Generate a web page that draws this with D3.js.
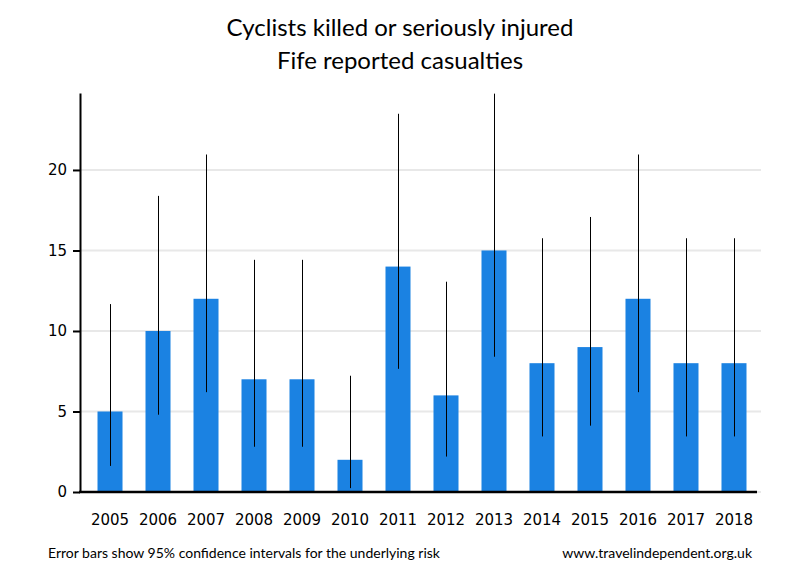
<!DOCTYPE html>
<html><head><meta charset="utf-8">
<script src="https://cdn.jsdelivr.net/npm/d3@7"></script>
<style>body{margin:0;background:#fff}</style>
</head><body>
<svg id="c" width="800" height="580"></svg>
<script>
const years = ["2005","2006","2007","2008","2009","2010","2011","2012","2013","2014","2015","2016","2017","2018"];
const casualties = [5,10,12,7,7,2,14,6,15,8,9,12,8,8];
const ciLower = [1.62,4.80,6.20,2.81,2.81,0.24,7.65,2.20,8.40,3.45,4.12,6.20,3.45,3.45];
const ciUpper = [11.67,18.39,20.96,14.42,14.42,7.22,23.49,13.06,24.74,15.76,17.08,20.96,15.76,15.76];
const yTicks = [0,5,10,15,20];

const svg = d3.select("#c");
const x = d3.scaleBand().domain(years).range([82,762]).paddingInner(0.479).paddingOuter(0.323);
const y = d3.scaleLinear().domain([0,24.78]).range([492,93]);

// gridlines
svg.append("g").selectAll("line").data(yTicks).join("line")
  .attr("x1",80).attr("x2",761).attr("y1",d=>y(d)).attr("y2",d=>y(d))
  .attr("stroke","#e8e8e8").attr("stroke-width",2);

// bars
svg.append("g").selectAll("rect").data(years).join("rect")
  .attr("x",d=>x(d)).attr("width",x.bandwidth())
  .attr("y",(d,i)=>y(casualties[i])).attr("height",(d,i)=>y(0)-y(casualties[i]))
  .attr("fill","#1b82e2");

// error bars
svg.append("g").selectAll("line").data(years).join("line")
  .attr("x1",d=>Math.round(x(d)+x.bandwidth()/2)+0.5).attr("x2",d=>Math.round(x(d)+x.bandwidth()/2)+0.5)
  .attr("y1",(d,i)=>y(ciLower[i])).attr("y2",(d,i)=>y(ciUpper[i]))
  .attr("stroke","#000").attr("stroke-width",1);

// y axis
const ya = svg.append("g").attr("transform","translate(80,0)")
  .call(d3.axisLeft(y).tickValues(yTicks).tickSize(7).tickPadding(6).tickSizeOuter(0));
ya.select(".domain").attr("stroke-width",2);
ya.selectAll(".tick line").attr("stroke-width",2);
ya.selectAll("text").attr("font-family","DejaVu Sans").attr("font-size",15).attr("fill","#000");

// x axis
const xa = svg.append("g").attr("transform","translate(0,492)")
  .call(d3.axisBottom(x).tickSize(0).tickPadding(22));
xa.select(".domain").attr("d","M79,0H757").attr("stroke-width",2.5);
xa.selectAll("text").attr("font-family","DejaVu Sans").attr("font-size",15).attr("fill","#000");

// titles
svg.append("text").attr("x",400).attr("y",36).attr("text-anchor","middle")
  .attr("font-family","Lato").attr("font-size",24).attr("fill","#000")
  .text("Cyclists killed or seriously injured");
svg.append("text").attr("x",400).attr("y",69).attr("text-anchor","middle")
  .attr("font-family","Lato").attr("font-size",24).attr("fill","#000")
  .text("Fife reported casualties");

// footer
svg.append("text").attr("x",48).attr("y",558)
  .attr("font-family","Lato").attr("font-size",14).attr("fill","#000")
  .text("Error bars show 95% confidence intervals for the underlying risk");
svg.append("text").attr("x",752).attr("y",558).attr("text-anchor","end")
  .attr("font-family","Lato").attr("font-size",14).attr("fill","#000")
  .text("www.travelindependent.org.uk");
</script>
</body></html>
